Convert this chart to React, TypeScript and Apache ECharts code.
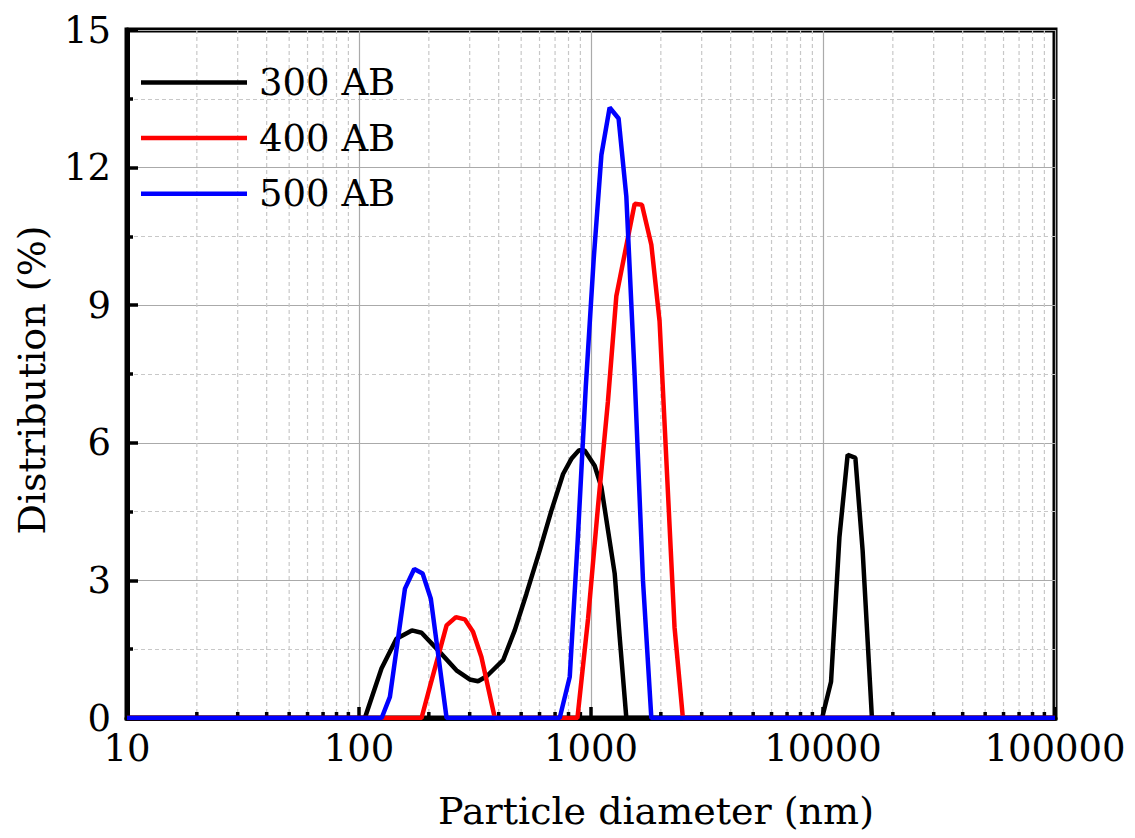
import React, { useEffect, useRef } from "react";
import * as echarts from "echarts";

// 300 AB
const black300X = [10, 106, 125, 145, 169, 186, 219, 263, 300, 326, 355, 418, 469, 527, 601, 675, 758, 823, 888, 939, 1037, 1109, 1184, 1265, 1329, 1420, 9910, 10830, 11770, 12770, 13790, 14820, 16250, 100000];
const black300Y = [0, 0, 1.08, 1.73, 1.91, 1.86, 1.48, 1.04, 0.84, 0.8, 0.91, 1.26, 1.91, 2.71, 3.65, 4.52, 5.32, 5.65, 5.84, 5.83, 5.5, 5.03, 4.09, 3.15, 1.77, 0, 0, 0.79, 3.94, 5.74, 5.67, 3.65, 0, 0];
// 400 AB
const red400X = [10, 186, 202, 238.5, 261.6, 286, 310, 337, 385, 874, 971, 1071, 1183, 1286, 1542, 1658, 1820, 1975, 2291, 2489, 100000];
const red400Y = [0, 0, 0.68, 2.02, 2.2, 2.15, 1.88, 1.33, 0, 0, 2.16, 4.59, 6.9, 9.2, 11.21, 11.19, 10.32, 8.65, 1.98, 0, 0];
// 500 AB
const blue500X = [10, 125.2, 135.9, 157.8, 173, 188, 204, 238.5, 733, 810, 877, 949, 1027, 1109, 1203, 1315, 1420, 1541, 1675, 1820, 100000];
const blue500Y = [0, 0, 0.46, 2.82, 3.25, 3.15, 2.6, 0, 0, 0.9, 3.9, 7.2, 10.0, 12.28, 13.31, 13.07, 11.37, 7.5, 3.0, 0, 0];

const seriesNames = ["300 AB", "400 AB", "500 AB"];
const seriesColors = ["#000000", "#ff0000", "#0000ff"];
const minorXTicks = [20, 30, 40, 50, 60, 70, 80, 90, 200, 300, 400, 500, 600, 700, 800, 900, 2000, 3000, 4000, 5000, 6000, 7000, 8000, 9000, 20000, 30000, 40000, 50000, 60000, 70000, 80000, 90000];
const xTitle = "Particle diameter (nm)";
const yTitle = "Distribution (%)";

const FONT = "DejaVu Serif";

function pairs(xs: number[], ys: number[]) {
  return xs.map((x, i) => [x, ys[i]]);
}

export default function App() {
  const ref = useRef<HTMLDivElement>(null);
  useEffect(() => {
    if (!ref.current) return;
    const chart = echarts.init(ref.current, undefined, { renderer: "svg" });
    const datasets = [pairs(black300X, black300Y), pairs(red400X, red400Y), pairs(blue500X, blue500Y)];
    chart.setOption({
      animation: false,
      backgroundColor: "#ffffff",
      grid: {
        left: 127,
        right: 80,
        top: 30,
        bottom: 120,
        show: true,
        borderColor: "#000",
        borderWidth: 5,
        containLabel: false,
      },
      legend: {
        data: seriesNames,
        orient: "vertical",
        left: 141,
        top: 64,
        padding: 0,
        icon: "rect",
        itemWidth: 106,
        itemHeight: 4.5,
        itemGap: 18.6,
        textStyle: { fontSize: 37, fontFamily: FONT, color: "#000", padding: [0, 0, 0, 7] },
      },
      xAxis: {
        type: "log",
        logBase: 10,
        min: 10,
        max: 100000,
        axisLine: { show: true, lineStyle: { color: "#000", width: 5 } },
        axisTick: { show: true, inside: true, length: 11, lineStyle: { color: "#000", width: 3.5 } },
        axisLabel: {
          fontSize: 37,
          fontFamily: FONT,
          color: "#000",
          margin: 12,
          formatter: (v: number) => String(Math.round(v)),
        },
        splitLine: { show: true, lineStyle: { color: "#aaaaaa", width: 1.2 } },
      },
      yAxis: {
        type: "value",
        min: 0,
        max: 15,
        interval: 3,
        axisLine: { show: true, lineStyle: { color: "#000", width: 5 } },
        axisTick: { show: true, inside: true, length: 11, lineStyle: { color: "#000", width: 3.5 } },
        minorTick: { show: true, splitNumber: 2, length: 6, lineStyle: { color: "#000", width: 3.5 } },
        axisLabel: { fontSize: 37, fontFamily: FONT, color: "#000", margin: 16 },
        splitLine: { show: true, lineStyle: { color: "#aaaaaa", width: 1.2 } },
        minorSplitLine: { show: true, lineStyle: { color: "#c8c8c8", width: 1.2, type: [4, 3] } },
      },
      series: [
        {
          type: "custom",
          name: "minor",
          silent: true,
          z: 1,
          data: minorXTicks.map((v) => [v, 0]),
          encode: { x: 0, y: 1 },
          renderItem: (_params: any, api: any) => {
            const v = api.value(0);
            const bottom = api.coord([v, 0]);
            const top = api.coord([v, 15]);
            return {
              type: "group",
              children: [
                {
                  type: "line",
                  shape: { x1: bottom[0], y1: top[1], x2: bottom[0], y2: bottom[1] },
                  style: { stroke: "#c8c8c8", lineWidth: 1.2, lineDash: [4, 3] },
                },
                {
                  type: "line",
                  shape: { x1: bottom[0], y1: bottom[1], x2: bottom[0], y2: bottom[1] - 6 },
                  style: { stroke: "#000", lineWidth: 3.5 },
                },
              ],
            };
          },
        },
        ...datasets.map((d, i) => ({
          type: "line",
          name: seriesNames[i],
          data: d,
          symbol: "none",
          showSymbol: false,
          z: 3 + i,
          lineStyle: { color: seriesColors[i], width: 4.5 },
          itemStyle: { color: seriesColors[i] },
        })),
      ],
      graphic: [
        {
          type: "text",
          x: 656,
          y: 811,
          style: {
            text: xTitle,
            fontSize: 38,
            fontFamily: FONT,
            fill: "#000",
            textAlign: "center",
            textVerticalAlign: "middle",
          },
        },
        {
          type: "text",
          x: 32,
          y: 380,
          rotation: Math.PI / 2,
          style: {
            text: yTitle,
            fontSize: 38,
            fontFamily: FONT,
            fill: "#000",
            textAlign: "center",
            textVerticalAlign: "middle",
          },
        },
      ],
    });
    return () => chart.dispose();
  }, []);
  return (
    <div
      ref={ref}
      style={{ position: "fixed", left: 0, top: 0, width: 1135, height: 838, background: "#fff" }}
    />
  );
}
